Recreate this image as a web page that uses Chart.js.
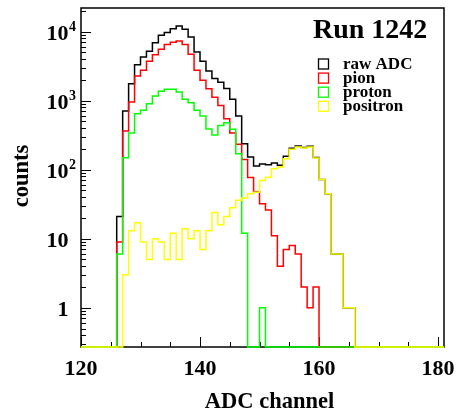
<!DOCTYPE html>
<html>
<head>
<meta charset="utf-8">
<title>ADC spectrum</title>
<script src="https://cdn.jsdelivr.net/npm/chart.js@4.4.1/dist/chart.umd.min.js"></script>
<style>
  html, body { margin: 0; padding: 0; background: #fff; }
  #wrap { width: 456px; height: 417px; }
</style>
</head>
<body>
<div id="wrap"><canvas id="adcChart" width="456" height="417"></canvas></div>
<script>
// ADC channels that have entries (bin low edges, width 1)
const channels = [126, 127, 128, 129, 130, 131, 132, 133, 134, 135,
                  136, 137, 138, 139, 140, 141, 142, 143, 144, 145,
                  146, 147, 148, 149, 150, 151, 152, 153, 154, 155,
                  156, 157, 158, 159, 160, 161, 162, 163, 164, 165];

const rawCounts = [21, 710, 1760, 3320, 4300, 5190, 6920, 8830, 9680, 11000,
                   12100, 10800, 8340, 5070, 3720, 2700, 2100, 1850, 1500, 1045,
                   600, 238, 153, 113, 121, 118, 125, 116, 156, 205,
                   220, 210, 218, 150, 72, 45, 6, 6, 1, 1];

const pionCounts = [9, 364, 957, 2280, 2750, 3720, 4640, 5540, 6490, 7000,
                    7330, 6500, 4700, 2750, 1970, 1490, 1120, 850, 548, 340,
                    233, 140, 77, 48, 32, 26, 11, 4, 7, 8,
                    6, 2, 1, 2, 0, 0, 0, 0, 0, 0];

const protonCounts = [6, 149, 340, 648, 724, 905, 1170, 1365, 1460, 1460,
                      1340, 1045, 935, 724, 600, 390, 318, 435, 480, 384,
                      170, 12, 0, 0, 1, 0, 0, 0, 0, 0,
                      0, 0, 0, 0, 0, 0, 0, 0, 0, 0];

const positronCounts = [0, 3, 13, 17, 9, 5, 10, 9, 5, 12,
                        5, 14, 10, 13, 7, 13, 24, 16, 21, 28,
                        36, 39, 45, 47, 70, 78, 103, 109, 144, 197,
                        213, 206, 213, 148, 72, 45, 6, 6, 1, 1];

const seriesNames = ['raw ADC', 'pion', 'proton', 'positron'];
const seriesColors = ['#000000', '#ff0000', '#00ff00', '#ffff00'];

const xTickValues = [120, 140, 160, 180];
const xTickLabels = ['120', '140', '160', '180'];
const yTickValues = [1, 10, 100, 1000, 10000];
const yTickLabels = ['1', '10', '10^2', '10^3', '10^4'];

const xMin = 120, xMax = 181;
const yMin = 0.27, yMax = 22000;

const serif = "'Liberation Serif', 'DejaVu Serif', serif";

// histogram outline: two points per bin so the line steps at bin edges,
// empty bins sit on the bottom of the frame like ROOT does
function histPoints(counts) {
    const byChannel = {};
    channels.forEach((c, i) => { byChannel[c] = counts[i]; });
    const pts = [];
    for (let c = xMin; c < xMax; c++) {
        const v = Math.max(byChannel[c] || 0, yMin);
        pts.push({ x: c, y: v });
        pts.push({ x: c + 1, y: v });
    }
    return pts;
}

const allCounts = [rawCounts, pionCounts, protonCounts, positronCounts];

const datasets = allCounts.map((counts, i) => ({
    label: seriesNames[i],
    data: histPoints(counts),
    borderColor: seriesColors[i],
    borderWidth: 1.5,
    pointRadius: 0,
    fill: false,
    tension: 0,
    clip: 2,
    order: allCounts.length - i   // positron on top, raw underneath
}));

// frame, inside ticks, labels, title and legend in ROOT style
const rootStyle = {
    id: 'rootStyle',
    beforeDatasetsDraw(chart) {
        const { ctx, chartArea: a, scales } = chart;
        const xs = scales.x, ys = scales.y;
        ctx.save();
        ctx.strokeStyle = '#000';
        ctx.lineWidth = 1.5;
        ctx.strokeRect(a.left, a.top, a.right - a.left, a.bottom - a.top);

        ctx.lineWidth = 1;
        ctx.beginPath();
        // log axis: major tick per decade, minor at 2..9
        for (let d = -1; d <= 4; d++) {
            for (let k = 1; k <= 9; k++) {
                const v = k * Math.pow(10, d);
                if (v < yMin || v > yMax) continue;
                const py = Math.round(ys.getPixelForValue(v)) + 0.5;
                const len = k === 1 ? 10 : 5;
                ctx.moveTo(a.left, py);
                ctx.lineTo(a.left + len, py);
            }
        }
        for (let v = xMin; v <= 180; v += 5) {
            const px = Math.round(xs.getPixelForValue(v)) + 0.5;
            const len = v % 20 === 0 ? 10 : 5;
            ctx.moveTo(px, a.bottom);
            ctx.lineTo(px, a.bottom - len);
        }
        ctx.stroke();
        ctx.restore();
    },
    afterDraw(chart) {
        const { ctx, chartArea: a, scales } = chart;
        const xs = scales.x, ys = scales.y;
        ctx.save();
        ctx.fillStyle = '#000';

        // x tick labels
        ctx.font = 'bold 22px ' + serif;
        ctx.textAlign = 'center';
        ctx.textBaseline = 'alphabetic';
        xTickValues.forEach((v, i) => {
            ctx.fillText(xTickLabels[i], xs.getPixelForValue(v), 375);
        });

        // y tick labels with superscript exponents
        yTickValues.forEach((v, i) => {
            const py = ys.getPixelForValue(v);
            const parts = yTickLabels[i].split('^');
            ctx.font = 'bold 22px ' + serif;
            ctx.textAlign = 'right';
            ctx.fillText(parts[0], a.left - 12.5, py + 8.5);
            if (parts[1]) {
                ctx.font = 'bold 14px ' + serif;
                ctx.textAlign = 'left';
                ctx.fillText(parts[1], a.left - 12, py - 1);
            }
        });

        // axis titles
        ctx.font = 'bold 22.5px ' + serif;
        ctx.textAlign = 'center';
        ctx.fillText('ADC channel', 269.5, 408);
        ctx.save();
        ctx.translate(27.5, 176);
        ctx.rotate(-Math.PI / 2);
        ctx.fillText('counts', 0, 0);
        ctx.restore();

        // run title
        ctx.font = 'bold 28px ' + serif;
        ctx.textAlign = 'left';
        ctx.fillText('Run 1242', 313, 37.7);

        // legend
        ctx.font = 'bold 17px ' + serif;
        chart.data.datasets.forEach((ds, i) => {
            const top = 59 + i * 14.1;
            ctx.strokeStyle = ds.borderColor;
            ctx.lineWidth = 1.3;
            ctx.strokeRect(318.5, top, 10, 10);
            ctx.fillStyle = '#000';
            ctx.fillText(ds.label, 343, top + 10);
        });
        ctx.restore();
    }
};

new Chart(document.getElementById('adcChart'), {
    type: 'line',
    data: { datasets: datasets },
    options: {
        responsive: false,
        animation: false,
        devicePixelRatio: 1,
        layout: { padding: { left: 81, right: 12, top: 8, bottom: 70 } },
        scales: {
            x: { type: 'linear', min: xMin, max: xMax, display: false },
            y: { type: 'logarithmic', min: yMin, max: yMax, display: false }
        },
        plugins: {
            legend: { display: false },
            tooltip: { enabled: false }
        }
    },
    plugins: [rootStyle]
});
</script>
</body>
</html>
